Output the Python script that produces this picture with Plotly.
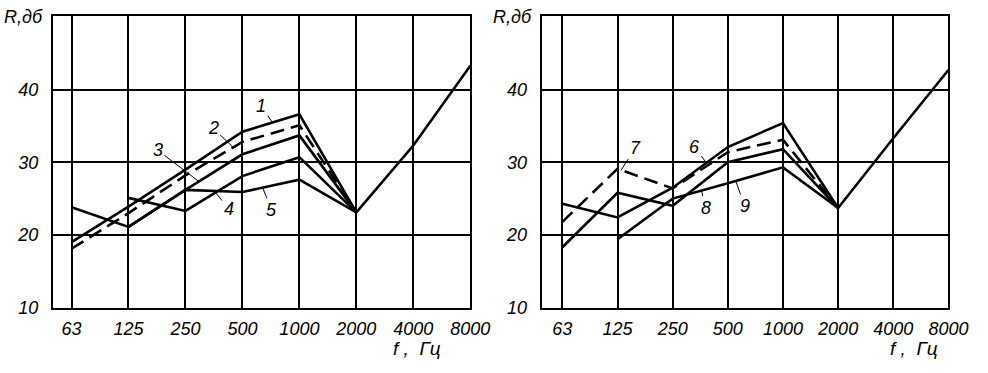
import plotly.graph_objects as go

# ---------------- data ----------------
freqs = ["63", "125", "250", "500", "1000", "2000", "4000", "8000"]
main_freqs = freqs[:6]          # 63 ... 2000
tail_freqs = freqs[5:]          # 2000 ... 8000 (common branch)

# left panel, R in dB
left_c1 = [19.0, 23.9, 29.0, 34.2, 36.6, 23.1]
left_c2 = [18.1, 23.0, 28.2, 32.8, 35.1, 23.1]   # dashed
left_c3 = [None, 21.1, 26.2, 31.1, 33.7, 23.1]
left_c4 = [None, 25.1, 23.3, 28.1, 30.7, 23.1]
left_c5 = [23.8, 21.1, 26.2, 25.9, 27.6, 23.1]
left_tail = [23.1, 32.3, 43.3]

# right panel, R in dB
right_c6 = [24.3, 22.4, 26.5, 32.1, 35.4, 23.7]
right_c7 = [21.8, 29.1, 26.4, 31.4, 33.1, 23.7]  # dashed
right_c8 = [18.3, 25.8, 24.0, 30.0, 31.8, 23.7]
right_c9 = [None, 19.4, 25.0, 27.1, 29.3, 23.7]
right_tail = [23.7, 33.3, 42.7]

y_ticks = [10, 20, 30, 40]

FONT = "Liberation Sans"
BLACK = "#000000"

fig = go.Figure()

def add_curve(vals, xa, ya, dashed=False, xs=main_freqs):
    fig.add_trace(go.Scatter(
        x=xs, y=vals, xaxis=xa, yaxis=ya, mode="lines",
        line=dict(color=BLACK, width=2.6, dash="14px,7px" if dashed else "solid"),
        connectgaps=False, showlegend=False, hoverinfo="skip"))

for c, d in [(left_c1, False), (left_c2, True), (left_c3, False),
             (left_c4, False), (left_c5, False)]:
    add_curve(c, "x", "y", d)
add_curve(left_tail, "x", "y", False, tail_freqs)

for c, d in [(right_c6, False), (right_c7, True), (right_c8, False),
             (right_c9, False)]:
    add_curve(c, "x2", "y2", d)
add_curve(right_tail, "x2", "y2", False, tail_freqs)


def interp(vals, pos):
    i = int(pos)
    f = pos - i
    return vals[i] + (vals[i + 1] - vals[i]) * f

tick_font = dict(family=FONT, size=18, color=BLACK, style="italic")

axis_common = dict(
    showline=True, linecolor=BLACK, linewidth=2.2, mirror=True,
    showgrid=True, gridcolor=BLACK, gridwidth=1.8,
    zeroline=False, ticks="", tickfont=tick_font, fixedrange=True,
)

fig.update_layout(
    width=988, height=373,
    margin=dict(l=0, r=0, t=0, b=0),
    paper_bgcolor="white", plot_bgcolor="white",
    xaxis=dict(axis_common, type="category", categoryorder="array",
               categoryarray=freqs, domain=[54 / 988, 480 / 988],
               range=[-0.327, 7], anchor="y", ticklabelstandoff=4),
    yaxis=dict(axis_common, domain=[1 - 316 / 373, 1 - 16 / 373],
               range=[10, 50.2], tickvals=y_ticks, anchor="x",
               ticklabelstandoff=9),
    xaxis2=dict(axis_common, type="category", categoryorder="array",
                categoryarray=freqs, domain=[553 / 988, 968 / 988],
                range=[-0.373, 7], anchor="y2", ticklabelstandoff=4),
    yaxis2=dict(axis_common, domain=[1 - 316 / 373, 1 - 16 / 373],
                range=[10, 50.2], tickvals=y_ticks, anchor="x2",
                ticklabelstandoff=9),
)

lab_font = dict(family=FONT, size=18, color=BLACK, style="italic")

# curve labels with leader lines: (text, axes, curve, x position, dx, dy)
labels = [
    ("1", "x", "y", left_c1, 3.526, -11, -17),
    ("2", "x", "y", left_c2, 2.838, -20, -19),
    ("3", "x", "y", left_c3, 2.236, -41, -31),
    ("4", "x", "y", left_c4, 2.528, 13, 16),
    ("5", "x", "y", left_c5, 3.354, 9, 22),
    ("7", "x2", "y2", right_c7, 1.066, 14, -22),
    ("6", "x2", "y2", right_c6, 2.611, -12, -16),
    ("8", "x2", "y2", right_c9, 2.523, 4, 17),
    ("9", "x2", "y2", right_c9, 3.144, 9, 25),
]
for text, xa, ya, curve, pos, dx, dy in labels:
    fig.add_annotation(
        x=pos, y=interp(curve, pos), xref=xa, yref=ya, text=text,
        showarrow=True, arrowhead=0, arrowwidth=1, arrowcolor=BLACK,
        ax=dx, ay=dy, standoff=0, font=lab_font)

# axis titles
for xc in (24, 523):
    fig.add_annotation(x=xc / 988, y=1 - 17 / 373, xref="paper", yref="paper",
                       text="R,дб", showarrow=False, xanchor="center",
                       yanchor="middle", font=lab_font)
for xc in (426, 933):
    fig.add_annotation(x=xc / 988, y=1 - 358 / 373, xref="paper", yref="paper",
                       text="f ,  Гц", showarrow=False, xanchor="center",
                       yanchor="middle", borderpad=0,
                       font=dict(family=FONT, size=19, color=BLACK, style="italic"))

fig.write_html("out.html")
